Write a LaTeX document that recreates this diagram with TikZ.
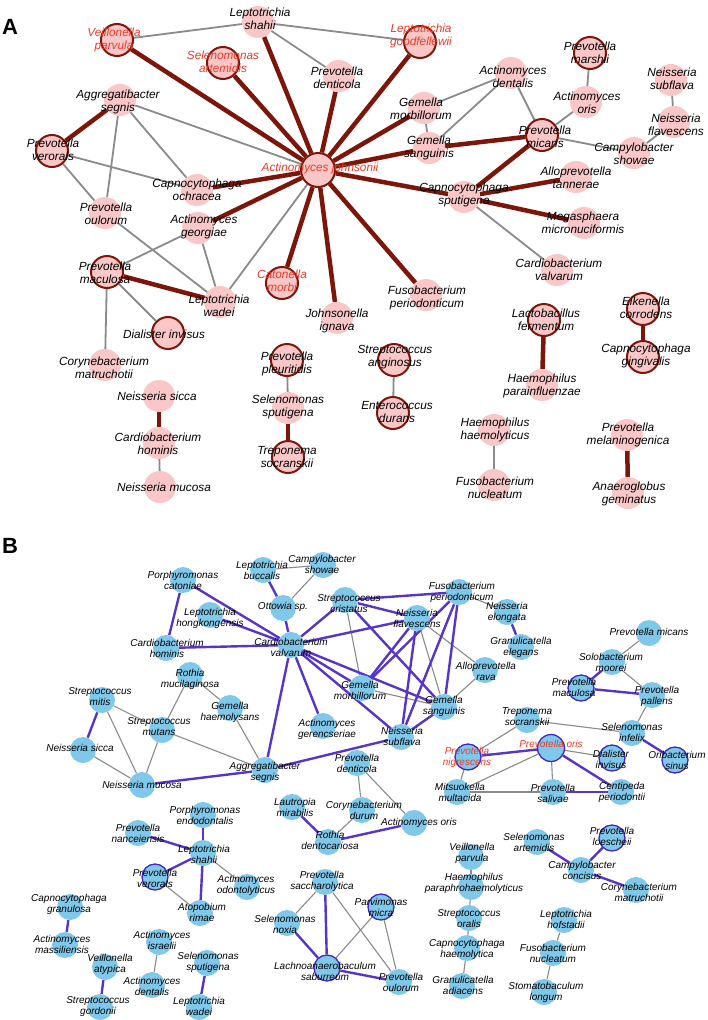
\documentclass[tikz,border=0pt]{standalone}
\usepackage{fontspec}
\setmainfont{Liberation Sans}
\pgfdeclarelayer{bg}
\pgfdeclarelayer{edges}
\pgfdeclarelayer{labels}
\pgfsetlayers{bg,edges,main,labels}
\definecolor{pinkF}{RGB}{249,199,199}
\definecolor{darkR}{RGB}{125,22,10}
\definecolor{redT}{RGB}{232,60,42}
\definecolor{grayE}{RGB}{138,138,138}
\definecolor{blueF}{RGB}{128,200,234}
\definecolor{blueE}{RGB}{88,52,200}
\definecolor{blueB}{RGB}{64,40,190}
\newcommand{\mynd}[8]{%
  \node[#1] (#2) at (#3,#4) {};
  \begin{pgfonlayer}{labels}\node[#5] (#2-l) at (#6,#7) {#8};\end{pgfonlayer}}
\tikzset{
  na/.style={circle, fill=pinkF, minimum size=32pt, inner sep=0pt},
  nab/.style={na, draw=darkR, line width=2pt},
  la/.style={font=\fontsize{11.8}{13.5}\selectfont\itshape, align=center, inner sep=0pt},
  lar/.style={la, text=redT},
  ea/.style={draw=darkR, line width=4.5pt},
  ga/.style={draw=grayE, line width=1.8pt},
  nbx/.style={circle, fill=blueF, minimum size=26pt, inner sep=0pt},
  nbb/.style={nbx, draw=blueB, line width=1.3pt},
  lb/.style={font=\fontsize{10}{11}\selectfont\itshape, align=center, inner sep=0pt},
  lbr/.style={lb, text=redT},
  eb/.style={draw=blueE, line width=2.4pt},
  gb/.style={draw=grayE, line width=1.1pt},
  panel/.style={font=\fontsize{22}{22}\selectfont\bfseries, inner sep=0pt}
}
\begin{document}
\begin{tikzpicture}[x=1pt,y=-1pt]
\begin{pgfonlayer}{bg}
\fill[white] (0,0) rectangle (708,1020);
\end{pgfonlayer}
\useasboundingbox (0,0) rectangle (708,1020);
\node[panel] (pA) at (10,27) {A};
\node[panel] (pB) at (10,546) {B};
% ---------------- Panel A ----------------
\mynd{na}{aLs}{258}{22}{la}{260}{19}{Leptotrichia\\shahii}
\mynd{nab}{aVp}{117}{40}{lar}{114}{40}{Veillonella\\parvula}
\mynd{nab}{aSa}{223}{63}{lar}{223}{62}{Selenomonas\\artemidis}
\mynd{na}{aPd}{339}{76}{la}{337}{78}{Prevotella\\denticola}
\mynd{nab}{aLg}{420}{42}{lar}{421}{36}{Leptotrichia\\goodfellewii}
\mynd{na}{aAs}{120}{100}{la}{118}{102}{Aggregatibacter\\segnis}
\mynd{nab}{aPv}{52}{151}{la}{53}{150}{Prevotella\\verorals}
\mynd{nab,minimum size=34pt}{aAj}{318}{170}{lar}{320}{168}{Actinomyces johnsonii}
\mynd{na}{aCo}{197}{190}{la}{197}{190}{Capnocytophaga\\ochracea}
\mynd{na}{aPo}{105}{213}{la}{106}{214}{Prevotella\\oulorum}
\mynd{na}{aAg}{198}{228}{la}{204}{227}{Actinomyces\\georgiae}
\mynd{nab}{aPm}{107}{272}{la}{105}{273}{Prevotella\\maculosa}
\mynd{na}{aLw}{220}{302}{la}{219}{306}{Leptotrichia\\wadei}
\mynd{nab}{aDi}{168}{333}{la}{164}{334}{Dialister invisus}
\mynd{na}{aCm}{105}{365}{la}{104}{368}{Corynebacterium\\matruchotii}
\mynd{nab}{aCa}{282}{283}{lar}{282}{281}{Catonella\\morbi}
\mynd{na}{aJi}{337}{318}{la}{337}{321}{Johnsonella\\ignava}
\mynd{nab}{aPp}{287}{360}{la}{287}{364}{Prevotella\\pleuritidis}
\mynd{na}{aGm}{424}{108}{la}{421}{109}{Gemella\\morbillorum}
\mynd{na}{aGs}{429}{148}{la}{429}{148}{Gemella\\sanguinis}
\mynd{na}{aAd}{511}{73}{la}{513}{77}{Actinomyces\\dentalis}
\mynd{nab}{aPmi}{542}{135}{la}{545}{137}{Prevotella\\micans}
\mynd{nab}{aPma}{590}{53}{la}{590}{53}{Prevotella\\marshii}
\mynd{na}{aAo}{586}{102}{la}{587}{103}{Actinomyces\\oris}
\mynd{na}{aNs}{671}{80}{la}{672}{79}{Neisseria\\subflava}
\mynd{na}{aNf}{674}{122}{la}{676}{125}{Neisseria\\flavescens}
\mynd{na}{aCs}{634}{153}{la}{634}{154}{Campylobacter\\showae}
\mynd{na}{aAt}{576}{177}{la}{576}{178}{Alloprevotella\\tannerae}
\mynd{na}{aCsp}{464}{197}{la}{464}{195}{Capnocytophaga\\sputigena}
\mynd{na}{aMm}{584}{223}{la}{583}{223}{Megasphaera\\micronuciformis}
\mynd{na}{aCv}{557}{270}{la}{559}{270}{Cardiobacterium\\valvarum}
\mynd{na}{aFp}{426}{295}{la}{427}{298}{Fusobacterium\\periodonticum}
\mynd{nab}{aLf}{544}{320}{la}{546}{320}{Lactobacillus\\fermentum}
\mynd{nab}{aEc}{643}{309}{la}{646}{308}{Eikenella\\corrodens}
\mynd{nab}{aCg}{643}{357}{la}{646}{356}{Capnocytophaga\\gingivalis}
\mynd{nab}{aSan}{394}{360}{la}{395}{357}{Streptococcus\\anginosus}
\mynd{na}{aHp}{542}{385}{la}{542}{386}{Haemophilus\\parainfluenzae}
\mynd{nab}{aEd}{393}{413}{la}{397}{412}{Enterococcus\\durans}
\mynd{na}{aHh}{494}{430}{la}{495}{430}{Haemophilus\\haemolyticus}
\mynd{na}{aFn}{494}{485}{la}{495}{488}{Fusobacterium\\nucleatum}
\mynd{na}{aPmel}{627}{435}{la}{628}{435}{Prevotella\\melaninogenica}
\mynd{na}{aAge}{628}{493}{la}{629}{494}{Anaeroglobus\\geminatus}
\mynd{na}{aNsi}{159}{396}{la}{157}{396}{Neisseria sicca}
\mynd{na}{aCh}{159}{443}{la}{158}{444}{Cardiobacterium\\hominis}
\mynd{na}{aNm}{160}{487}{la}{164}{487}{Neisseria mucosa}
\mynd{na}{aSs}{288}{408}{la}{288}{407}{Selenomonas\\sputigena}
\mynd{nab}{aTs}{288}{457}{la}{287}{457}{Treponema\\socranskii}
% ---------------- Panel B ----------------
\mynd{nbx}{bLb}{263}{570}{lb}{262}{570}{Leptotrichia\\buccalis}
\mynd{nbx}{bCsh}{323}{565}{lb}{322}{564}{Campylobacter\\showae}
\mynd{nbx}{bPc}{183}{580}{lb}{183}{580}{Porphyromonas\\catoniae}
\mynd{nbx}{bOt}{283}{608}{lb}{283}{607}{Ottowia sp.}
\mynd{nbx}{bSc}{345}{600}{lb}{349}{604}{Streptococcus\\cristatus}
\mynd{nbx}{bLh}{210}{615}{lb}{210}{618}{Leptotrichia\\hongkongensis}
\mynd{nbx}{bCv}{291}{645}{lb}{291}{647}{Cardiobacterium\\valvarum}
\mynd{nbx}{bCh}{166}{648}{lb}{167}{648}{Cardiobacterium\\hominis}
\mynd{nbx}{bRm}{190}{675}{lb}{190}{679}{Rothia\\mucilaginosa}
\mynd{nbx}{bGh}{230}{708}{lb}{230}{712}{Gemella\\haemolysans}
\mynd{nbx}{bSm}{102}{700}{lb}{100}{697}{Streptococcus\\mitis}
\mynd{nbx}{bGm}{362}{688}{lb}{360}{690}{Gemella\\morbillorum}
\mynd{nbx}{bAge}{323}{726}{lb}{327}{729}{Actinomyces\\gerencseriae}
\mynd{nbx}{bFp}{459}{592}{lb}{462}{592}{Fusobacterium\\periodonticum}
\mynd{nbx}{bNf}{417}{618}{lb}{417}{618}{Neisseria\\flavescens}
\mynd{nbx}{bNe}{507}{612}{lb}{507}{612}{Neisseria\\elongata}
\mynd{nbx}{bGe}{521}{647}{lb}{521}{647}{Granulicatella\\elegans}
\mynd{nbx}{bAr}{485}{670}{lb}{486}{671}{Alloprevotella\\rava}
\mynd{nbx}{bGs}{444}{707}{lb}{444}{706}{Gemella\\sanguinis}
\mynd{nbx}{bPmi}{649}{633}{lb}{649}{632}{Prevotella micans}
\mynd{nbx}{bSmo}{612}{662}{lb}{611}{662}{Solobacterium\\moorei}
\mynd{nbb}{bPma}{581}{688}{lb}{574}{687}{Prevotella\\maculosa}
\mynd{nbx}{bPpa}{652}{695}{lb}{657}{696}{Prevotella\\pallens}
\mynd{nbx}{bTs}{527}{720}{lb}{527}{717}{Treponema\\socranskii}
\mynd{nbx}{bSmu}{162}{730}{lb}{159}{727}{Streptococcus\\mutans}
\mynd{nbx}{bNsi}{83}{750}{lb}{80}{748}{Neisseria sicca}
\mynd{nbx}{bNm}{142}{785}{lb}{142}{785}{Neisseria mucosa}
\mynd{nbx}{bAs}{265}{770}{lb}{265}{772}{Aggregatibacter\\segnis}
\mynd{nbx}{bPd}{357}{763}{lb}{357}{763}{Prevotella\\denticola}
\mynd{nbx}{bCd}{362}{810}{lb}{364}{810}{Corynebacterium\\durum}
\mynd{nbx}{bLm}{292}{807}{lb}{295}{807}{Lautropia\\mirabilis}
\mynd{nbx}{bRd}{328}{842}{lb}{330}{840}{Rothia\\dentocariosa}
\mynd{nbx}{bPe}{203}{815}{lb}{205}{815}{Porphyromonas\\endodontalis}
\mynd{nbx}{bPn}{138}{833}{lb}{138}{833}{Prevotella\\nanceiensis}
\mynd{nbx}{bLs}{203}{853}{lb}{204}{854}{Leptotrichia\\shahii}
\mynd{nbx}{bNsu}{401}{737}{lb}{402}{736}{Neisseria\\subflava}
\mynd{nbx}{bSi}{632}{733}{lb}{632}{732}{Selenomonas\\infelix}
\mynd{nbb,minimum size=27pt}{bPo}{551}{748}{lbr}{551}{744}{Prevotella oris}
\mynd{nbb}{bPni}{468}{757}{lbr}{467}{757}{Prevotella\\nigrescens}
\mynd{nbb}{bDi}{612}{758}{lb}{611}{759}{Dialister\\invisus}
\mynd{nbb}{bOs}{675}{760}{lb}{677}{760}{Oribacterium\\sinus}
\mynd{nbx}{bMm}{457}{792}{lb}{460}{792}{Mitsuokella\\multacida}
\mynd{nbx}{bPs}{553}{792}{lb}{553}{793}{Prevotella\\salivae}
\mynd{nbx}{bCp}{621}{792}{lb}{622}{792}{Centipeda\\periodontii}
\mynd{nbx}{bAo}{414}{823}{lb}{419}{823}{Actinomyces oris}
\mynd{nbx}{bSa}{537}{842}{lb}{534}{842}{Selenomonas\\artemidis}
\mynd{nbb}{bPl}{612}{838}{lb}{612}{836}{Prevotella\\loescheii}
\mynd{nbx}{bVp}{471}{857}{lb}{472}{853}{Veillonella\\parvula}
\mynd{nbx}{bCc}{581}{870}{lb}{582}{870}{Campylobacter\\concisus}
\mynd{nbx}{bHpa}{471}{887}{lb}{474}{883}{Haemophilus\\paraphrohaemolyticus}
\mynd{nbx}{bSo}{469}{918}{lb}{469}{919}{Streptococcus\\oralis}
\mynd{nbx}{bCha}{467}{948}{lb}{467}{949}{Capnocytophaga\\haemolytica}
\mynd{nbx}{bGa}{462}{986}{lb}{463}{985}{Granulicatella\\adiacens}
\mynd{nbx}{bCm}{636}{890}{lb}{639}{892}{Corynebacterium\\matruchotii}
\mynd{nbx}{bLho}{564}{920}{lb}{566}{919}{Leptotrichia\\hofstadii}
\mynd{nbx}{bFn}{553}{953}{lb}{553}{953}{Fusobacterium\\nucleatum}
\mynd{nbx}{bSl}{544}{992}{lb}{546}{992}{Stomatobaculum\\longum}
\mynd{nbb}{bPmc}{381}{907}{lb}{381}{907}{Parvimonas\\micra}
\mynd{nbx}{bPou}{399}{982}{lb}{401}{982}{Prevotella\\oulorum}
\mynd{nbb}{bPv}{155}{877}{lb}{155}{878}{Prevotella\\verorals}
\mynd{nbx}{bAod}{247}{887}{lb}{246}{885}{Actinomyces\\odontolyticus}
\mynd{nbx}{bAtr}{200}{913}{lb}{202}{912}{Atopobium\\rimae}
\mynd{nbx}{bCgr}{70}{907}{lb}{69}{904}{Capnocytophaga\\granulosa}
\mynd{nbx}{bAma}{65}{945}{lb}{62}{944}{Actinomyces\\massiliensis}
\mynd{nbx}{bVa}{105}{967}{lb}{110}{964}{Veillonella\\atypica}
\mynd{nbx}{bSg}{100}{1007}{lb}{98}{1007}{Streptococcus\\gordonii}
\mynd{nbx}{bAi}{159}{942}{lb}{162}{940}{Actinomyces\\israelii}
\mynd{nbx}{bAd}{152}{985}{lb}{152}{986}{Actinomyces\\dentalis}
\mynd{nbx}{bSsp}{207}{963}{lb}{208}{962}{Selenomonas\\sputigena}
\mynd{nbx}{bLw}{199}{1007}{lb}{199}{1006}{Leptotrichia\\wadei}
\mynd{nbx}{bPsa}{325}{882}{lb}{322}{881}{Prevotella\\saccharolytica}
\mynd{nbx}{bSn}{287}{923}{lb}{285}{924}{Selenomonas\\noxia}
\mynd{nbb}{bLsa}{327}{968}{lb}{325}{971}{Lachnoanaerobaculum\\saburreum}
% ---------------- Edges ----------------
\begin{pgfonlayer}{edges}
\foreach \u/\v in {aVp/aLs, aLs/aLg, aLs/aPd, aAs/aAj, aAs/aPo, aAs/aCo, aPv/aCo, aPv/aPo, aPo/aLw, aAg/aPm, aAg/aLw, aAj/aLw, aPm/aDi, aPm/aCm, aGm/aAd, aGm/aGs, aGs/aAd, aAd/aPmi, aPmi/aAo, aAo/aPma, aPmi/aCs, aCs/aNf, aNf/aNs, aCsp/aCv, aPp/aSs, aSan/aEd, aHh/aFn, aCh/aNm}
  \draw[ga] (\u) -- (\v);
\foreach \u/\v in {aAj/aVp, aAj/aSa, aAj/aLs, aAj/aPd, aAj/aLg, aAj/aGm, aAj/aGs, aAj/aCsp, aAj/aCo, aAj/aAg, aAj/aCa, aAj/aJi, aAj/aFp, aAs/aPv, aPm/aLw, aGs/aPmi, aPmi/aCsp, aCsp/aAt, aCsp/aMm, aLf/aHp, aEc/aCg, aNsi/aCh, aSs/aTs, aPmel/aAge}
  \draw[ea] (\u) -- (\v);
\foreach \u/\v in {bLb/bCsh, bOt/bCsh, bRm/bSmu, bRm/bGh, bSm/bSmu, bSm/bNm, bNsi/bNm, bSmu/bNm, bSmu/bAs, bGh/bAs, bRd/bCd, bPd/bCd, bPd/bAo, bLs/bAod, bPv/bAtr, bAi/bAd, bPsa/bSn, bPsa/bPou, bLsa/bPmc, bPmc/bPou, bVp/bHpa, bHpa/bSo, bSo/bCha, bCha/bGa, bLho/bFn, bFn/bSl, bTs/bPni, bTs/bSi, bPni/bMm, bPo/bMm, bPo/bPs, bPo/bDi, bMm/bPs, bSi/bPpa, bSmo/bPmi, bSmo/bPpa, bFp/bNe, bNf/bAr, bNf/bGs, bSc/bGm, bGm/bGs, bGs/bAr}
  \draw[gb] (\u) -- (\v);
\foreach \u/\v in {bPc/bCh, bPc/bCv, bLh/bCv, bCh/bCv, bLb/bOt, bOt/bCv, bCv/bSc, bCv/bGm, bCv/bGs, bCv/bNsu, bCv/bAge, bCv/bAs, bCv/bNf, bSm/bNsi, bNm/bAs, bAs/bNsu, bLm/bRd, bRd/bAo, bPe/bLs, bPn/bLs, bLs/bPv, bLs/bAtr, bCgr/bAma, bVa/bSg, bSsp/bLw, bPsa/bLsa, bSn/bLsa, bLsa/bPou, bSa/bCc, bPl/bCc, bCc/bCm, bPni/bPo, bPo/bCp, bPs/bCp, bSi/bOs, bSmo/bPma, bPma/bPpa, bNe/bGe, bSc/bFp, bFp/bGs, bFp/bNsu, bFp/bGm, bSc/bNf, bNf/bNsu, bNf/bGm, bSc/bGs, bGs/bNsu}
  \draw[eb] (\u) -- (\v);
\end{pgfonlayer}
\end{tikzpicture}
\end{document}
